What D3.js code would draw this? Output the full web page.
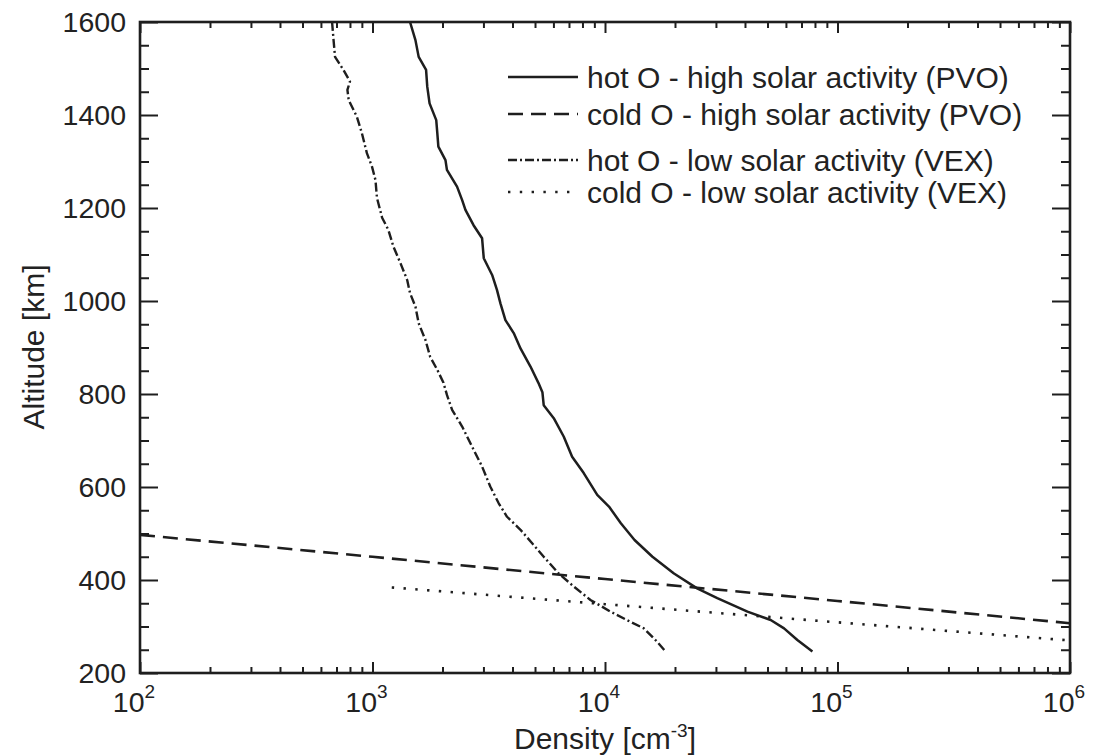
<!DOCTYPE html>
<html>
<head>
<meta charset="utf-8">
<script src="https://cdn.jsdelivr.net/npm/d3@7"></script>
<style>
  html, body { margin: 0; padding: 0; background: #fff; }
  svg { display: block; }
  text { font-family: "Liberation Sans", Arial, sans-serif; fill: #222; }
</style>
</head>
<body>
<svg id="chart" width="1093" height="756"></svg>
<script>
// Oxygen density profiles: altitude [km] vs density [cm^-3]
const hotHighDensity = [1450, 1530, 1580, 1700, 1720, 1760, 1880, 1900, 1920, 2060, 2090, 2310, 2430, 2510, 2720, 2960, 3010, 3270, 3430, 3550, 3730, 4050, 4330, 4780, 5170, 5380, 5450, 6020, 6650, 7220, 8100, 9260, 10400, 11700, 13400, 16000, 19800, 24900, 30400, 41000, 51600, 58900, 67200, 78000];
const hotHighAltitude = [1600, 1561, 1525, 1497, 1461, 1425, 1389, 1361, 1332, 1303, 1282, 1246, 1217, 1196, 1163, 1135, 1092, 1056, 1024, 995, 959, 931, 898, 859, 824, 804, 776, 748, 708, 665, 630, 583, 558, 522, 486, 450, 414, 382, 361, 332, 314, 296, 271, 246];

const coldHighDensity = [1e2, 1e3, 1e4, 1e5, 1e6];
const coldHighAltitude = [497, 450, 402, 355, 307];

const hotLowDensity = [670, 680, 690, 750, 800, 780, 790, 857, 900, 946, 995, 1030, 1045, 1100, 1170, 1230, 1320, 1410, 1450, 1530, 1580, 1690, 1770, 1900, 2020, 2090, 2200, 2430, 2680, 2960, 3210, 3490, 3790, 4330, 4860, 5450, 6320, 7340, 8660, 10560, 12880, 14690, 16780, 18220];
const hotLowAltitude = [1600, 1561, 1525, 1497, 1472, 1454, 1432, 1396, 1361, 1318, 1289, 1260, 1222, 1179, 1153, 1117, 1081, 1045, 1017, 988, 952, 916, 880, 852, 824, 798, 766, 730, 687, 644, 601, 565, 536, 508, 479, 450, 414, 386, 357, 332, 310, 296, 267, 246];

const coldLowDensity = [1210, 1e4, 1e5, 1e6];
const coldLowAltitude = [384, 348, 309, 270];

const seriesNames = [
  "hot O - high solar activity (PVO)",
  "cold O - high solar activity (PVO)",
  "hot O - low solar activity (VEX)",
  "cold O - low solar activity (VEX)"
];

const xMajorTicks = [1e2, 1e3, 1e4, 1e5, 1e6];
const xTickExponents = ["2", "3", "4", "5", "6"];
const yMajorTicks = [200, 400, 600, 800, 1000, 1200, 1400, 1600];

// layout
const plotLeft = 140, plotRight = 1070, plotTop = 22, plotBottom = 673;
const ink = "#1e1e1e";
const tickFont = 28.5;
const labelFont = 30;

const svg = d3.select("#chart");

const x = d3.scaleLog().domain([1e2, 1e6]).range([plotLeft, plotRight]);
const y = d3.scaleLinear().domain([200, 1600]).range([plotBottom, plotTop]);

// minor ticks: 2..9 within each decade, every 50 km in altitude
const xMinor = [];
for (let e = 2; e < 6; e++) for (let m = 2; m <= 9; m++) xMinor.push(m * Math.pow(10, e));
const yMinor = d3.range(200, 1601, 50).filter(v => v % 200 !== 0);

function styleAxis(g) {
  g.select(".domain").remove();
  g.selectAll(".tick line").attr("stroke", ink).attr("stroke-width", 2);
  g.selectAll(".tick text").remove();
}

// inward ticks on all four sides
svg.append("g").attr("transform", `translate(0,${plotBottom})`)
  .call(d3.axisBottom(x).tickValues(xMajorTicks).tickSize(-11).tickFormat("")).call(styleAxis);
svg.append("g").attr("transform", `translate(0,${plotBottom})`)
  .call(d3.axisBottom(x).tickValues(xMinor).tickSize(-6).tickFormat("")).call(styleAxis);
svg.append("g").attr("transform", `translate(0,${plotTop})`)
  .call(d3.axisTop(x).tickValues(xMajorTicks).tickSize(-11).tickFormat("")).call(styleAxis);
svg.append("g").attr("transform", `translate(0,${plotTop})`)
  .call(d3.axisTop(x).tickValues(xMinor).tickSize(-6).tickFormat("")).call(styleAxis);
svg.append("g").attr("transform", `translate(${plotLeft},0)`)
  .call(d3.axisLeft(y).tickValues(yMajorTicks).tickSize(-18).tickFormat("")).call(styleAxis);
svg.append("g").attr("transform", `translate(${plotLeft},0)`)
  .call(d3.axisLeft(y).tickValues(yMinor).tickSize(-9).tickFormat("")).call(styleAxis);
svg.append("g").attr("transform", `translate(${plotRight},0)`)
  .call(d3.axisRight(y).tickValues(yMajorTicks).tickSize(-18).tickFormat("")).call(styleAxis);
svg.append("g").attr("transform", `translate(${plotRight},0)`)
  .call(d3.axisRight(y).tickValues(yMinor).tickSize(-9).tickFormat("")).call(styleAxis);

// frame
svg.append("rect")
  .attr("x", plotLeft).attr("y", plotTop)
  .attr("width", plotRight - plotLeft).attr("height", plotBottom - plotTop)
  .attr("fill", "none").attr("stroke", ink).attr("stroke-width", 2.6);

// y tick labels
svg.append("g").selectAll("text").data(yMajorTicks).join("text")
  .attr("x", plotLeft - 14).attr("y", d => y(d))
  .attr("dy", "0.36em")
  .attr("text-anchor", "end")
  .attr("font-size", tickFont)
  .text(d => d);

// x tick labels: 10 with superscript exponent
const xl = svg.append("g").selectAll("text").data(xMajorTicks).join("text")
  .attr("x", d => x(d) - 6).attr("y", 712)
  .attr("text-anchor", "middle")
  .attr("font-size", tickFont);
xl.append("tspan").text("10");
xl.append("tspan").attr("dy", -14).attr("font-size", 19).text((d, i) => xTickExponents[i]);

// axis titles
const xt = svg.append("text")
  .attr("x", 605).attr("y", 749)
  .attr("text-anchor", "middle")
  .attr("font-size", labelFont);
xt.append("tspan").text("Density [cm");
xt.append("tspan").attr("dy", -12).attr("font-size", 19).text("-3");
xt.append("tspan").attr("dy", 12).text("]");

svg.append("text")
  .attr("transform", "translate(44,347) rotate(-90)")
  .attr("text-anchor", "middle")
  .attr("font-size", labelFont)
  .text("Altitude [km]");

// profiles
const series = [
  { density: hotHighDensity, altitude: hotHighAltitude, dash: null, width: 2.5 },
  { density: coldHighDensity, altitude: coldHighAltitude, dash: "15,8", width: 2.6 },
  { density: hotLowDensity, altitude: hotLowAltitude, dash: "9,3,2,3", width: 2.4 },
  { density: coldLowDensity, altitude: coldLowAltitude, dash: "2.4,9.4", width: 2.6 }
];

svg.append("clipPath").attr("id", "plot-clip")
  .append("rect").attr("x", plotLeft).attr("y", plotTop)
  .attr("width", plotRight - plotLeft).attr("height", plotBottom - plotTop);

const line = d3.line().x(d => x(d[0])).y(d => y(d[1]));

svg.append("g").attr("clip-path", "url(#plot-clip)")
  .selectAll("path").data(series).join("path")
  .attr("d", s => line(s.density.map((d, i) => [d, s.altitude[i]])))
  .attr("fill", "none")
  .attr("stroke", ink)
  .attr("stroke-width", s => s.width)
  .attr("stroke-dasharray", s => s.dash)
  .attr("stroke-linejoin", "round");

// legend
const legendRows = [77, 114, 160, 192];
const legend = svg.append("g");
series.forEach((s, i) => {
  legend.append("line")
    .attr("x1", 508).attr("x2", 578)
    .attr("y1", legendRows[i]).attr("y2", legendRows[i])
    .attr("stroke", ink)
    .attr("stroke-width", s.width)
    .attr("stroke-dasharray", s.dash);
  legend.append("text")
    .attr("x", 587).attr("y", legendRows[i])
    .attr("dy", "0.36em")
    .attr("font-size", labelFont)
    .text(seriesNames[i]);
});
</script>
</body>
</html>
